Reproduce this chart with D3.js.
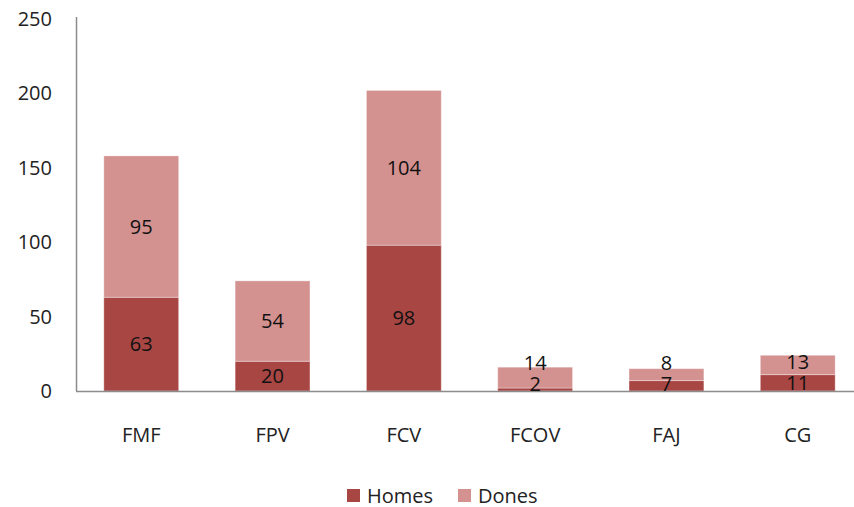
<!DOCTYPE html>
<html><head><meta charset="utf-8">
<script src="https://cdn.jsdelivr.net/npm/d3@7"></script>
<style>body{margin:0;background:#fff}svg{display:block;font-family:"Open Sans","Liberation Sans",sans-serif}</style>
</head><body><svg id="c" width="854" height="507"></svg>
<script>
const categories = ["FMF","FPV","FCV","FCOV","FAJ","CG"];
const homes = [63,20,98,2,7,11];
const dones = [95,54,104,14,8,13];
const yTicks = [0,50,100,150,200,250];
const seriesNames = ["Homes","Dones"];
const colors = ["#A84644","#D39190"];

const svg = d3.select("#c");
const FS = 20;
const x = d3.scaleBand().domain(categories).range([75.6,863.4]).paddingInner(0.43).paddingOuter(0.215);
const y = d3.scaleLinear().domain([0,250]).range([391,19]);

const data = categories.map((c,i)=>({cat:c,Homes:homes[i],Dones:dones[i]}));
const stacked = d3.stack().keys(seriesNames)(data);

// y tick labels
svg.append("g").selectAll("text").data(yTicks).join("text")
  .attr("x",52).attr("y",d=>y(d)).attr("dy","0.35em").attr("text-anchor","end")
  .attr("font-size",FS).attr("fill","#222").text(d=>d);

// bars
stacked.forEach((s,si)=>{
  svg.append("g").selectAll("rect").data(s).join("rect")
    .attr("x",d=>x(d.data.cat)).attr("width",x.bandwidth())
    .attr("y",d=>y(d[1])).attr("height",d=>y(d[0])-y(d[1]))
    .attr("fill",colors[si]).attr("stroke","rgba(255,255,255,0.35)").attr("stroke-width",1);
});

// axes lines
svg.append("line").attr("x1",76.5).attr("x2",76.5).attr("y1",17).attr("y2",391).attr("stroke","#8c8c8c").attr("stroke-width",1.5);
svg.append("line").attr("x1",76).attr("x2",854).attr("y1",391.5).attr("y2",391.5).attr("stroke","#8c8c8c").attr("stroke-width",1.5);

// value labels
const lbl = svg.append("g").attr("font-size",FS).attr("fill","#111").attr("text-anchor","middle");
data.forEach((d,i)=>{
  const cx = x(d.cat)+x.bandwidth()/2;
  const hy = Math.min((y(0)+y(d.Homes))/2, y(0)-7);
  const dyv = Math.min((y(d.Homes)+y(d.Homes+d.Dones))/2, hy-21);
  lbl.append("text").attr("x",cx).attr("y",hy).attr("dy","0.35em").text(d.Homes);
  lbl.append("text").attr("x",cx).attr("y",dyv).attr("dy","0.35em").text(d.Dones);
});

// category labels
svg.append("g").selectAll("text").data(categories).join("text")
  .attr("x",d=>x(d)+x.bandwidth()/2).attr("y",435).attr("dy","0.35em")
  .attr("text-anchor","middle").attr("font-size",FS).attr("fill","#222").text(d=>d);

// legend
const leg = svg.append("g");
const legX = [347,458];
seriesNames.forEach((n,i)=>{
  leg.append("rect").attr("x",legX[i]).attr("y",489).attr("width",13).attr("height",13).attr("fill",colors[i]);
  leg.append("text").attr("x",legX[i]+20).attr("y",495.5).attr("dy","0.35em").attr("font-size",FS).attr("fill","#222").text(n);
});
</script></body></html>
